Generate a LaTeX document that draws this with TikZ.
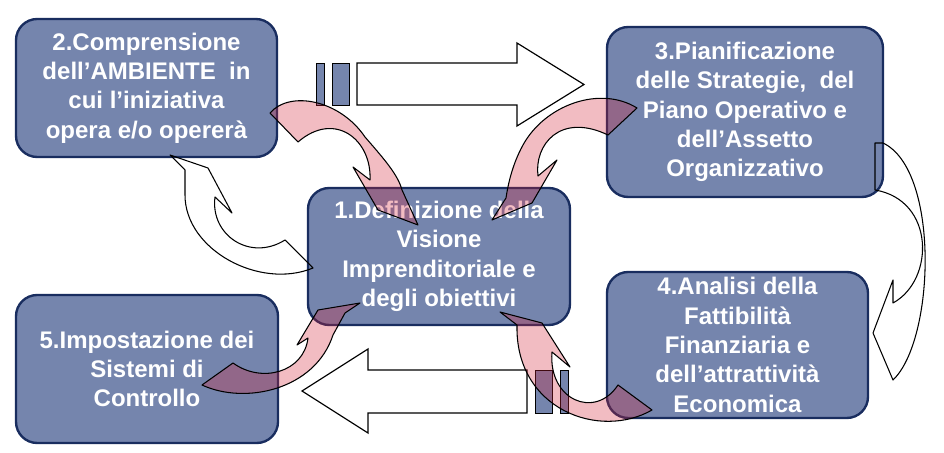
\documentclass[tikz,border=0pt]{standalone}
\usepackage{fontspec}
\setmainfont{Liberation Sans}
\definecolor{boxfill}{RGB}{117,133,173}
\definecolor{boxline}{RGB}{25,45,95}
\definecolor{pinkarrow}{RGB}{215,35,55}
\begin{document}
\begin{tikzpicture}[x=0.85pt,y=-0.85pt,
  box/.style={draw=boxline, line width=2pt, fill=boxfill, rounded corners=18pt, inner sep=0pt, align=center, text=white, font=\fontsize{20.4}{25}\selectfont\bfseries},
  bigarrow/.style={draw=black, line width=1pt, fill=white, line join=miter},
  bar/.style={draw=black, line width=0.8pt, fill=boxfill},
  pinkarr/.style={draw=black, line width=0.9pt, fill=pinkarrow, fill opacity=0.3, line join=round},
  whitearr/.style={draw=black, line width=0.9pt, line join=round}]
\fill[white] (0,0) rectangle (944,453);
\useasboundingbox (0,0) rectangle (944,453);

% boxes
\node[box, minimum width=261*0.85pt, minimum height=138*0.85pt] (b2) at (146.5,88) {2.Comprensione\\dell’AMBIENTE\ \ in\\cui l’iniziativa\\opera e/o opererà};
\node[box, minimum width=276*0.85pt, minimum height=170*0.85pt] (b3) at (745,112) {3.Pianificazione\\delle Strategie,\ \ del\\Piano Operativo e\\dell’Assetto\\Organizzativo};
\node[box, minimum width=262*0.85pt, minimum height=137*0.85pt] (b1) at (439,256.5) {1.Definizione della\\Visione\\Imprenditoriale e\\degli obiettivi};
\node[box, minimum width=262*0.85pt, minimum height=148*0.85pt] (b5) at (147,369) {5.Impostazione dei\\Sistemi di\\Controllo};
\node[box, minimum width=261*0.85pt, minimum height=146*0.85pt] (b4) at (737.5,345) {4.Analisi della\\Fattibilità\\Finanziaria e\\dell’attrattività\\Economica};

% big hollow arrows
\draw[bigarrow] (357,63) -- (517,63) -- (517,43) -- (584,84.5) -- (517,126) -- (517,105) -- (357,105) -- cycle;
\draw[bar] (316,63) rectangle (324,105);
\draw[bar] (332,63) rectangle (349,105);
\draw[bigarrow] (527,370) -- (368,370) -- (368,349) -- (302,391) -- (368,433) -- (368,413) -- (527,413) -- cycle;
\draw[bar] (535,370) rectangle (552,413);
\draw[bar] (560,370) rectangle (568,413);

% white curved arrows
\draw[whitearr] (170,155) -- (208,168) -- (232,213) -- (215,197) .. controls (210,235) and (250,262) .. (285,240) -- (313,268) .. controls (260,290) and (185,250) .. (185,195) -- (185,170) -- cycle;
\draw[whitearr] (875,143) -- (883,143) .. controls (940,170) and (935,340) .. (893,380) -- (873,333) -- (893,280) -- (893,303) .. controls (935,280) and (935,200) .. (875,190) -- cycle;

% pink curved arrows
\draw[pinkarr] (270,113) .. controls (290,90) and (340,100) .. (365,137) .. controls (385,160) and (398,175) .. (402,190) -- (418,225) -- (378,210) -- (353,167) -- (370,180) .. controls (372,140) and (335,110) .. (298,142) -- cycle;
\draw[pinkarr] (637,108) .. controls (600,85) and (545,105) .. (523,145) .. controls (512,165) and (508,185) .. (506,198) -- (492,220) -- (532,203) -- (557,160) -- (538,176) .. controls (534,145) and (560,112) .. (608,135) -- cycle;
\draw[pinkarr] (202,385) .. controls (245,405) and (315,390) .. (333,335) -- (345,313) -- (360,303) -- (318,310) -- (297,345) -- (308,338) .. controls (304,372) and (262,384) .. (233,363) -- cycle;
\draw[pinkarr] (652,410) .. controls (600,440) and (515,410) .. (517,325) -- (500,312) -- (542,323) -- (570,367) -- (552,352) .. controls (548,400) and (595,420) .. (618,385) -- cycle;
\end{tikzpicture}
\end{document}
